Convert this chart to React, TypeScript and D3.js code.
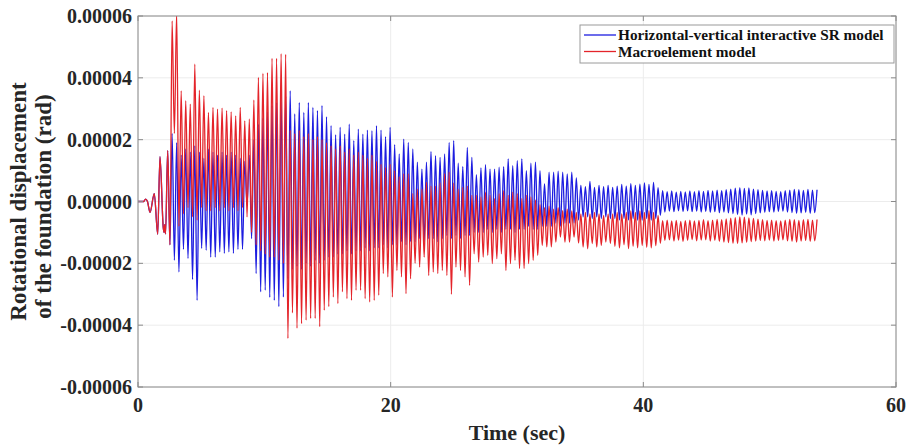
import React from 'react';
import * as d3 from 'd3';

const W = 909;
const H = 445;

// Axis ticks
const xTickValues = [0, 20, 40, 60];
const yTickValues = [-0.00006, -0.00004, -0.00002, 0, 0.00002, 0.00004, 0.00006];

// Series
const seriesNames = ['Horizontal-vertical interactive SR model', 'Macroelement model'];
const seriesColors = ['#1d1de0', '#e4242a'];

// values below are in micro-radians (1e-6 rad)
const unit = 1e-6;

// quiet start before the strong shaking (both models)
const preShakeTime = [0, 0.45, 0.6, 0.75, 0.95, 1.29, 1.56, 1.74, 2.0, 2.06, 2.12, 2.18, 2.35, 2.53];
const preShakeValue = [0, 0, 0.8, 0, -3.5, 2.5, -10.6, 14.5, -8.5, -10, -7.5, -10.5, 16.5, -14];

// oscillation cycles: peak i at cycleStart + i*cyclePeriod, trough half a period later
const cycleStart = 2.7;
const cyclePeriod = 0.3595;

const hvPeaks = [
  22, 19, 15, 17, 16, 18, 16, 14, 17, 16, 15, 16, 15, 16, 15, 14, 13, 15, 20, 25, 27, 29, 31, 32, 34, 34,
  35.8, 28.3, 32, 28.8, 32, 30.4, 29.4, 31, 27.4, 24.5, 21.6, 24, 21.8, 25, 19.7, 23.4, 21.8, 23.1, 22.9, 24.5, 23.1, 21, 24, 18.4, 15.4, 20.2, 19.1,
  17, 12.7, 10.5, 12.7, 16.2, 14.8, 14.3, 15.4, 19.1, 19.7, 12.4, 11.3, 17.5, 14.3, 8.7, 10.9, 11.9, 10.5, 10.5, 11.1, 11.3, 13.8, 11.6, 13.2, 13.8, 10, 12.4, 12.7, 10, 5.7, 9.5, 9.5, 9.8, 9.5, 8.9, 9.5, 7.6, 5.2, 4.8, 6.5, 4.6, 5.2, 4.8, 5.2, 4.6,
  5, 5.5, 5, 5.8, 5.2, 5.6, 6, 5.5, 6.2, 4.5,
  3.5, 3.2, 3.4, 3.0, 3.3, 3.1, 3.4, 3.2, 3.5, 3.3, 3.6, 3.4, 3.7, 3.5, 3.8, 4.0, 4.3, 4.5, 4.2, 4.4, 4.0, 3.8, 3.6, 3.4, 3.5, 3.3, 3.2, 3.5, 3.7, 3.9, 3.8, 3.6, 3.9, 3.7, 3.8,
];

const hvTroughs = [
  -19, -22.8, -15.5, -18.4, -25.2, -32, -15.2, -15.8, -18, -18, -16.3, -16.8, -16.3, -16.8, -15.5, -15.5, -1, -12, -23.3, -29.2, -28.7, -31, -32, -34, -30.9, -25,
  -22, -21, -22, -20, -21, -19, -20, -19, -18, -18, -17, -17, -16, -17, -16, -16, -15, -16, -15, -15, -14, -15, -14, -14, -13, -14, -13,
  -13, -12, -13, -12, -12, -13, -12, -11, -12, -11, -12, -11, -11, -10,
  -10, -10, -9, -10, -9, -10, -9, -9, -10, -9, -9, -8, -9, -9, -8, -8, -8, -7, -8, -7, -7, -7,
  -6, -5, -5, -5.5, -5, -5.5, -5, -5.5,
  -5.5, -6, -5.5, -6, -5.5, -6, -6, -5.5, -6, -5.5, -4.5,
  -3.4, -3.1, -3.3, -3.0, -3.2, -3.0, -3.3, -3.1, -3.4, -3.2, -3.5, -3.3, -3.6, -3.4, -3.7, -3.9, -4.2, -4.4, -4.1, -4.3, -3.9, -3.7, -3.5, -3.3, -3.4, -3.2, -3.1, -3.4, -3.6, -3.8, -3.7, -3.5, -3.8, -3.6,
];

const mePeaks = [
  58.4, 61, 35.8, 32.6, 31.5, 44.4, 36, 34.2, 28.8, 30.4, 29.9, 30.2, 29.4, 29, 27.7, 30.4, 26.1, 26.7, 32.8, 40.1, 41.4, 41.7, 46.3, 46.3, 47.8, 47.6,
  23, 22, 23, 21, 22, 20, 21, 20, 19, 18, 17, 18, 16, 17, 15, 16, 15, 14, 15, 13, 12, 11, 12, 10, 8, 9, 9,
  2.6, 4, 4, 6.2, 5, 5, 6, 9, 9.5, 6, 4, 4.6, 5, 2,
  2, 1.5, 3, 2, 1, 2.5, 3.5, 2, 3, 2.5, 1, 2, 1.5, 0.5,
  -1, -2, -1.5, -2.5, -2, -3, -2.5, -3, -3.5, -4, -3.5, -4, -3.5, -4, -4.5, -4,
  -4, -3.5, -4, -3.5, -3, -3.5, -3, -3.5, -3, -3.5, -4.5,
  -6.2, -6.0, -6.3, -6.1, -6.4, -6.2, -6.0, -6.3, -6.1, -5.9, -6.2, -6.0, -5.8, -5.9, -5.6, -5.4, -5.2, -5.0, -5.1, -5.3, -5.5, -5.7, -5.9, -6.1, -6.0, -6.2, -6.3, -6.0, -5.8, -5.9, -6.1, -5.9, -5.8, -6.0, -5.8,
];

const meTroughs = [
  22, -8, -4, -2, -5, -6, -2, -3, -3, -2, -3, -2, -3, -2, -3, -2, -5, -10, -14, -16, -17, -18, -18, -19, -20,
  -44.3, -36, -41, -39.5, -38.4, -37.8, -37.8, -40.5, -35.2, -34, -30.9, -33, -29.2, -31.4, -32, -28.7, -28.7, -31.4, -32.5, -32, -30.3, -23.3, -24.4, -30.9, -22.3, -24.4, -29.8, -25,
  -20, -21.2, -18, -23.9, -22.8, -23.3, -22.3, -23.9, -30, -21.2, -22.3, -24.4, -27.1, -16.9, -19.6, -18, -17.4, -20.1, -18.5, -16.9, -22.3, -20.1, -19, -21.7, -21.7, -20.1, -19, -17.4, -14.2, -14.7, -14.7, -13.1, -11.5, -13.1, -13.1, -11.5, -13.4, -14.7, -15.3, -13.6, -14.7, -14.2, -13.1, -13.6,
  -14.5, -15, -14, -15.2, -14.5, -15, -14.2, -14.8, -15, -14.3, -13.5,
  -12.6, -12.4, -12.8, -12.5, -12.9, -12.6, -12.3, -12.7, -12.5, -12.4, -12.8, -12.6, -12.9, -13.1, -13.3, -13.5, -13.6, -13.4, -13.2, -13.0, -12.8, -12.6, -12.7, -12.5, -12.8, -12.6, -12.4, -12.7, -12.9, -13.1, -12.8, -12.6, -12.9, -12.7,
];

type Pt = [number, number];

function buildSeries(peaks: number[], troughs: number[]): Pt[] {
  const pts: Pt[] = preShakeTime.map((t, i) => [t, preShakeValue[i] * unit]);
  peaks.forEach((p, i) => {
    pts.push([cycleStart + i * cyclePeriod, p * unit]);
    if (i < troughs.length) pts.push([cycleStart + (i + 0.5) * cyclePeriod, troughs[i] * unit]);
  });
  return pts;
}

const FONT = '"Liberation Serif", "Times New Roman", serif';

export default function App() {
  const left = 138, right = 896, top = 16, bottom = 387;
  const x = d3.scaleLinear().domain([0, 60]).range([left, right]);
  const y = d3.scaleLinear().domain([-0.00006, 0.00006]).range([bottom, top]);
  const line = d3.line<Pt>().x((d) => x(d[0])).y((d) => y(d[1])).curve(d3.curveMonotoneX);

  const series = [buildSeries(hvPeaks, hvTroughs), buildSeries(mePeaks, meTroughs)];
  const axisColor = '#8a8a8a';
  const gridColor = '#ececec';
  const tickLen = 5;

  return (
    <svg width={W} height={H} style={{ position: 'absolute', left: 0, top: 0, background: '#fff' }}>
      <defs>
        <clipPath id="plotClip">
          <rect x={left} y={top} width={right - left} height={bottom - top} />
        </clipPath>
      </defs>
      <rect x={0} y={0} width={W} height={H} fill="#fff" />
      {/* grid */}
      {yTickValues.map((v) => (
        <line key={'gy' + v} x1={left} x2={right} y1={y(v)} y2={y(v)} stroke={gridColor} strokeWidth={1} />
      ))}
      {xTickValues.map((v) => (
        <line key={'gx' + v} x1={x(v)} x2={x(v)} y1={top} y2={bottom} stroke={gridColor} strokeWidth={1} />
      ))}
      {/* data */}
      <g clipPath="url(#plotClip)">
        {series.map((s, i) => (
          <path key={i} d={line(s) || ''} fill="none" stroke={seriesColors[i]} strokeWidth={1.3} strokeLinejoin="round" />
        ))}
      </g>
      {/* box */}
      <rect x={left} y={top} width={right - left} height={bottom - top} fill="none" stroke={axisColor} strokeWidth={1} />
      {/* ticks */}
      {yTickValues.map((v) => (
        <g key={'ty' + v}>
          <line x1={left} x2={left + tickLen} y1={y(v)} y2={y(v)} stroke={axisColor} />
          <line x1={right} x2={right - tickLen} y1={y(v)} y2={y(v)} stroke={axisColor} />
          <text x={left - 6} y={y(v)} dy="0.35em" textAnchor="end" fontFamily={FONT} fontWeight="bold" fontSize={20} fill="#262626">
            {v.toFixed(5)}
          </text>
        </g>
      ))}
      {xTickValues.map((v) => (
        <g key={'tx' + v}>
          <line x1={x(v)} x2={x(v)} y1={bottom} y2={bottom - tickLen} stroke={axisColor} />
          <line x1={x(v)} x2={x(v)} y1={top} y2={top + tickLen} stroke={axisColor} />
          <text x={x(v)} y={412} textAnchor="middle" fontFamily={FONT} fontWeight="bold" fontSize={20} fill="#262626">
            {String(v)}
          </text>
        </g>
      ))}
      {/* axis titles */}
      <text x={(left + right) / 2} y={440} textAnchor="middle" fontFamily={FONT} fontWeight="bold" fontSize={22} fill="#262626">
        Time (sec)
      </text>
      <g transform={`translate(26, ${(top + bottom) / 2}) rotate(-90)`}>
        <text x={0} y={0} textAnchor="middle" fontFamily={FONT} fontWeight="bold" fontSize={23} fill="#262626">
          Rotational displacement
        </text>
      </g>
      <g transform={`translate(51, ${(top + bottom) / 2 + 5}) rotate(-90)`}>
        <text x={0} y={0} textAnchor="middle" fontFamily={FONT} fontWeight="bold" fontSize={23} fill="#262626">
          of the foundation (rad)
        </text>
      </g>
      {/* legend */}
      <rect x={580} y={25} width={314} height={38} fill="#fff" stroke="#9a9a9a" strokeWidth={1} />
      {seriesNames.map((n, i) => (
        <g key={n}>
          <line x1={584} x2={616} y1={35 + i * 16.5} y2={35 + i * 16.5} stroke={seriesColors[i]} strokeWidth={1.3} />
          <text x={618} y={40 + i * 16.5} fontFamily={FONT} fontWeight="bold" fontSize={15.3} fill="#111">
            {n}
          </text>
        </g>
      ))}
    </svg>
  );
}
